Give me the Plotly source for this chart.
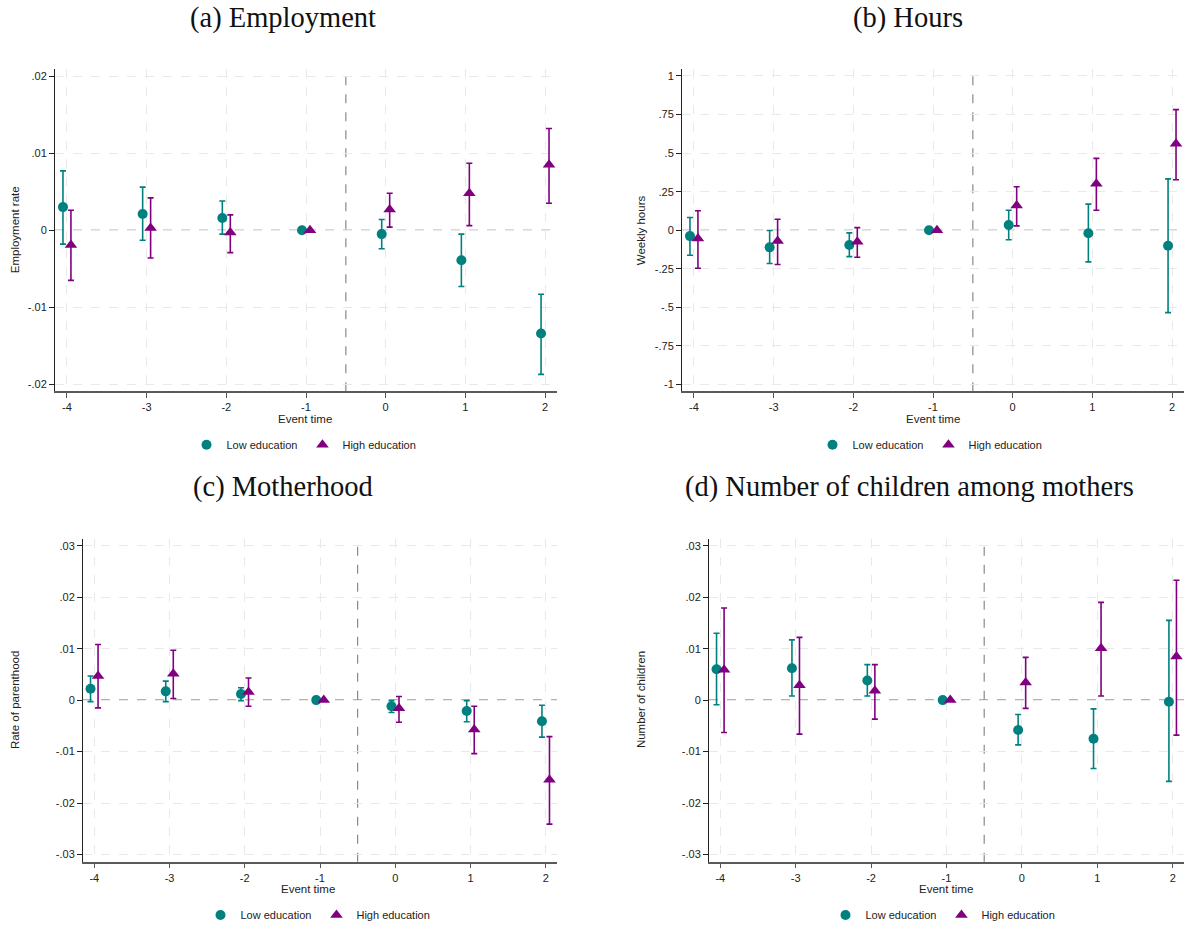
import plotly.graph_objects as go

# Event-time grid shared by all four panels
event_time = [-4, -3, -2, -1, 0, 1, 2]
x_tick_text = ["-4", "-3", "-2", "-1", "0", "1", "2"]

# (a) Employment
emp_low_est = [0.0030, 0.0021, 0.0016, 0.0, -0.0005, -0.0039, -0.0134]
emp_low_lo = [-0.0018, -0.0013, -0.0005, 0.0, -0.0024, -0.0073, -0.0187]
emp_low_hi = [0.0077, 0.0056, 0.0038, 0.0, 0.0014, -0.0005, -0.0083]
emp_high_est = [-0.0019, 0.0003, -0.0003, 0.0, 0.0027, 0.0048, 0.0085]
emp_high_lo = [-0.0065, -0.0036, -0.0029, 0.0, 0.0004, 0.0006, 0.0035]
emp_high_hi = [0.0026, 0.0042, 0.0020, 0.0, 0.0048, 0.0087, 0.0132]
emp_ticks = [-0.02, -0.01, 0, 0.01, 0.02]
emp_tick_text = ["-.02", "-.01", "0", ".01", ".02"]

# (b) Hours
hrs_low_est = [-0.038, -0.111, -0.096, 0.0, 0.034, -0.019, -0.100]
hrs_low_lo = [-0.162, -0.216, -0.171, 0.0, -0.062, -0.205, -0.534]
hrs_low_hi = [0.083, -0.002, -0.017, 0.0, 0.130, 0.169, 0.333]
hrs_high_est = [-0.053, -0.070, -0.075, 0.0, 0.160, 0.301, 0.560]
hrs_high_lo = [-0.246, -0.222, -0.175, 0.0, 0.028, 0.130, 0.327]
hrs_high_hi = [0.126, 0.071, 0.017, 0.0, 0.282, 0.466, 0.782]
hrs_ticks = [-1, -0.75, -0.5, -0.25, 0, 0.25, 0.5, 0.75, 1]
hrs_tick_text = ["-1", "-.75", "-.5", "-.25", "0", ".25", ".5", ".75", "1"]

# (c) Motherhood
mom_low_est = [0.0022, 0.0017, 0.0012, 0.0, -0.0012, -0.0021, -0.0041]
mom_low_lo = [-0.0003, -0.0003, -0.0001, 0.0, -0.0024, -0.0042, -0.0072]
mom_low_hi = [0.0047, 0.0037, 0.0024, 0.0, -0.0001, -0.0001, -0.0010]
mom_high_est = [0.0047, 0.0051, 0.0016, 0.0, -0.0016, -0.0057, -0.0155]
mom_high_lo = [-0.0015, 0.0003, -0.0012, 0.0, -0.0043, -0.0104, -0.0241]
mom_high_hi = [0.0108, 0.0097, 0.0043, 0.0, 0.0007, -0.0012, -0.0071]

# (d) Number of children among mothers
kid_low_est = [0.0060, 0.0062, 0.0038, 0.0, -0.0058, -0.0075, -0.0003]
kid_low_lo = [-0.0009, 0.0008, 0.0008, 0.0, -0.0087, -0.0133, -0.0158]
kid_low_hi = [0.0130, 0.0117, 0.0069, 0.0, -0.0028, -0.0017, 0.0155]
kid_high_est = [0.0059, 0.0029, 0.0018, 0.0, 0.0034, 0.0101, 0.0085]
kid_high_lo = [-0.0063, -0.0066, -0.0037, 0.0, -0.0016, 0.0008, -0.0068]
kid_high_hi = [0.0179, 0.0122, 0.0069, 0.0, 0.0083, 0.0190, 0.0233]
share_ticks = [-0.03, -0.02, -0.01, 0, 0.01, 0.02, 0.03]
share_tick_text = ["-.03", "-.02", "-.01", "0", ".01", ".02", ".03"]

series_names = ["Low education", "High education"]

W, H = 1184, 930
TEAL = "#00807f"
PURPLE = "#800080"
INK = "#222222"
GRID = "#e9e9e9"
SANS = "Liberation Sans, Arial, sans-serif"
SERIF = "Liberation Serif, Times New Roman, serif"


def px_x(p):
    return p / W


def px_y(p):
    return 1 - p / H


panels = [
    dict(title="(a) Employment", ytitle="Employment rate",
         low=(emp_low_est, emp_low_lo, emp_low_hi),
         high=(emp_high_est, emp_high_lo, emp_high_hi),
         ticks=emp_ticks, tick_text=emp_tick_text, yr=0.0209,
         box=(55, 557, 70, 396), title_xy=(283, 18), ytitle_x=15,
         xtitle_xy=(305, 424), legend_xy=(304, 450)),
    dict(title="(b) Hours", ytitle="Weekly hours",
         low=(hrs_low_est, hrs_low_lo, hrs_low_hi),
         high=(hrs_high_est, hrs_high_lo, hrs_high_hi),
         ticks=hrs_ticks, tick_text=hrs_tick_text, yr=1.044,
         box=(682, 1184, 70, 396), title_xy=(908, 18), ytitle_x=641,
         xtitle_xy=(933, 424), legend_xy=(930, 450)),
    dict(title="(c) Motherhood", ytitle="Rate of parenthood",
         low=(mom_low_est, mom_low_lo, mom_low_hi),
         high=(mom_high_est, mom_high_lo, mom_high_hi),
         ticks=share_ticks, tick_text=share_tick_text, yr=0.0314,
         box=(83, 557, 545, 872), title_xy=(283, 493), ytitle_x=15,
         xtitle_xy=(308, 900), legend_xy=(318, 926)),
    dict(title="(d) Number of children among mothers", ytitle="Number of children",
         low=(kid_low_est, kid_low_lo, kid_low_hi),
         high=(kid_high_est, kid_high_lo, kid_high_hi),
         ticks=share_ticks, tick_text=share_tick_text, yr=0.0314,
         box=(709, 1184, 545, 872), title_xy=(909, 493), ytitle_x=641,
         xtitle_xy=(946, 900), legend_xy=(943, 926)),
]

fig = go.Figure()
annotations = []
shapes = []
layout_axes = {}
legends = {}

for i, p in enumerate(panels):
    k = "" if i == 0 else str(i + 1)
    xa, ya = "x" + k, "y" + k
    leg = "legend" + k
    x0, x1, y0, y1 = p["box"]

    styles = [
        (p["low"], -0.05, TEAL, "circle", 10),
        (p["high"], 0.05, PURPLE, "triangle-up", 11),
    ]
    for name, ((est, lo, hi), shift, col, sym, size) in zip(series_names, styles):
        fig.add_trace(go.Scatter(
            x=[t + shift for t in event_time], y=est,
            mode="markers", name=name,
            marker=dict(symbol=sym, size=size, color=col, line=dict(width=0)),
            error_y=dict(type="data", symmetric=False,
                         array=[h - e for h, e in zip(hi, est)],
                         arrayminus=[e - l for e, l in zip(est, lo)],
                         color=col, thickness=1.6, width=3),
            xaxis=xa, yaxis=ya, legend=leg, cliponaxis=False,
        ))

    layout_axes["xaxis" + k] = dict(
        domain=[px_x(x0), px_x(x1)], range=[-4.15, 2.15], anchor=ya,
        tickvals=event_time, ticktext=x_tick_text, ticks="outside", ticklen=5,
        tickcolor="#555555", tickwidth=1, showline=True, linecolor="#5a5a5a",
        linewidth=1.6, showgrid=True, gridcolor=GRID, griddash="dash",
        gridwidth=1, zeroline=False, tickfont=dict(family=SANS, size=11, color=INK),
        automargin=False, fixedrange=True,
    )
    layout_axes["yaxis" + k] = dict(
        domain=[px_y(y1), px_y(y0)], range=[-p["yr"], p["yr"]], anchor=xa,
        tickvals=p["ticks"], ticktext=p["tick_text"], ticks="outside", ticklen=5,
        tickcolor=INK, tickwidth=1, showline=True, linecolor=INK, linewidth=1,
        showgrid=True, gridcolor=GRID, griddash="dash", gridwidth=1,
        zeroline=False, tickfont=dict(family=SANS, size=11, color=INK),
        automargin=False, fixedrange=True,
    )

    # reference lines: zero effect and the event boundary
    shapes.append(dict(type="line", xref=xa + " domain", yref=ya, x0=0, x1=1,
                       y0=0, y1=0, line=dict(color="#6a6a6a", width=1.1, dash="dash"),
                       layer="below"))
    shapes.append(dict(type="line", xref=xa, yref=ya + " domain", x0=-0.5, x1=-0.5,
                       y0=0, y1=1, line=dict(color="#8a8a8a", width=1.2, dash="dash"),
                       layer="below"))

    tx, ty = p["title_xy"]
    annotations.append(dict(text=p["title"], x=px_x(tx), y=px_y(ty), xref="paper",
                            yref="paper", showarrow=False, xanchor="center",
                            yanchor="middle", font=dict(family=SERIF, size=28.5, color="#111111")))
    annotations.append(dict(text=p["ytitle"], x=px_x(p["ytitle_x"]),
                            y=px_y((y0 + y1) / 2), xref="paper", yref="paper",
                            showarrow=False, textangle=-90, xanchor="center",
                            yanchor="middle", font=dict(family=SANS, size=11.5, color=INK)))
    ex, ey = p["xtitle_xy"]
    annotations.append(dict(text="Event time", x=px_x(ex), y=px_y(ey), xref="paper",
                            yref="paper", showarrow=False, xanchor="center",
                            yanchor="middle", font=dict(family=SANS, size=11.5, color=INK)))

    lx, ly = p["legend_xy"]
    legends[leg] = dict(orientation="h", x=px_x(lx), y=px_y(ly), xanchor="center",
                        yanchor="middle", font=dict(family=SANS, size=11, color=INK),
                        bgcolor="rgba(0,0,0,0)", itemwidth=30, tracegroupgap=0,
                        entrywidth=0)

fig.update_layout(
    width=W, height=H, margin=dict(l=0, r=0, t=0, b=0),
    paper_bgcolor="white", plot_bgcolor="white",
    showlegend=True, annotations=annotations, shapes=shapes,
    **layout_axes, **legends,
)

fig.write_html("out.html")
